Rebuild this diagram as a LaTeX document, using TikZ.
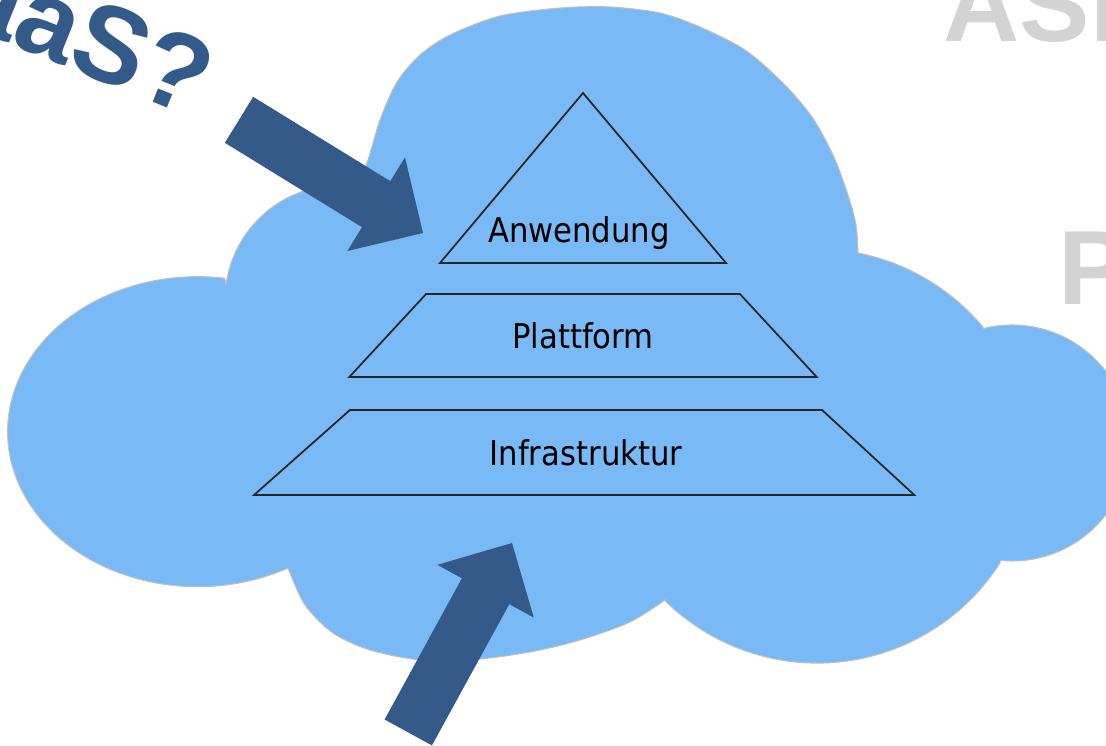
\documentclass[tikz,border=0pt]{standalone}
\usepackage{fontspec}
\usetikzlibrary{shapes.geometric}
\newfontfamily\layerfont{DejaVu Sans Condensed}
\newfontfamily\askfont{Liberation Sans}
\definecolor{C}{RGB}{121,185,246}
\definecolor{D}{RGB}{52,90,137}
\definecolor{E}{RGB}{211,211,211}
\tikzstyle{layer} = [trapezium,
trapezium stretches=true,
draw=black!85, line width=.5pt,
font=\layerfont\fontsize{9.7}{11}\selectfont]
\tikzstyle{layertext} = [inner sep=0pt, font=\layerfont\fontsize{9.7}{11}\selectfont]
\tikzstyle{ghost} = [anchor=base west, inner sep=0pt, text=E,
font=\askfont\bfseries\fontsize{30}{30}\selectfont]
\tikzset{bigarrow/.pic={
  \fill[D] (0,0) -- (-55,55) -- (-55,27) -- (-216,27) -- (-216,-27)
    -- (-55,-27) -- (-55,-55) -- cycle;}}

\begin{document}
\begin{tikzpicture}[x=0.01cm,y=0.01cm]
\useasboundingbox (0,0) rectangle (1106,-746);
\clip (0,0) rectangle (1106,-746);
% cloud
\fill[C, draw=black!25, line width=.3pt]
  (288,-568) arc[start angle=-61.6, end angle=-278.2, x radius=190, y radius=155]
  -- (226,-285) arc[start angle=172.4, end angle=81.5, radius=115]
  -- plot[smooth] coordinates {(357,-186) (368,-160) (380,-120) (397,-82) (420,-55)
     (450,-35) (500,-16) (560,-8) (610,-7) (660,-13) (700,-27) (745,-50) (783,-83)
     (812,-117) (833,-155) (848,-195) (856,-225) (858,-254)}
  -- (858,-253) arc[start angle=78.8, end angle=40, radius=218]
  -- (983.5,-328.5) arc[start angle=104, end angle=-95.7, radius=118]
  -- (1000,-563) arc[start angle=-32.6, end angle=-134.6, radius=217]
  -- plot[smooth] coordinates {(665,-600) (630,-622) (580,-640) (530,-652) (470,-660)
     (420,-660) (370,-650) (333,-633) (305,-605) (288,-568)}
  -- cycle;
% pyramid
\draw[draw=black!85, line width=.5pt] (583,-93) -- (726,-263) -- (440,-263) -- cycle;
\node[layertext] (app) at (579,-233) {Anwendung};
\node[layer, minimum width=4.68cm, minimum height=.83cm,
  trapezium left angle=51, trapezium right angle=51] (plat) at (583,-335.5) {Plattform};
\node[layer, minimum width=6.62cm, minimum height=.85cm,
  trapezium left angle=48.6, trapezium right angle=49.7] (infra) at (586,-452.5) {Infrastruktur};
% arrows
\pic[rotate=-31.6] at (423,-233) {bigarrow};
\pic[rotate=61.3] at (512,-543) {bigarrow};
% texts
\node[rotate=-22, inner sep=0pt, text=D,
  font=\askfont\bfseries\fontsize{31}{31}\selectfont] (aas) at (87,-35) {aaS?};
\node[ghost] (asp) at (943,-42) {ASP};
\node[ghost] (p) at (1058,-305) {P};
\end{tikzpicture}
\end{document}
